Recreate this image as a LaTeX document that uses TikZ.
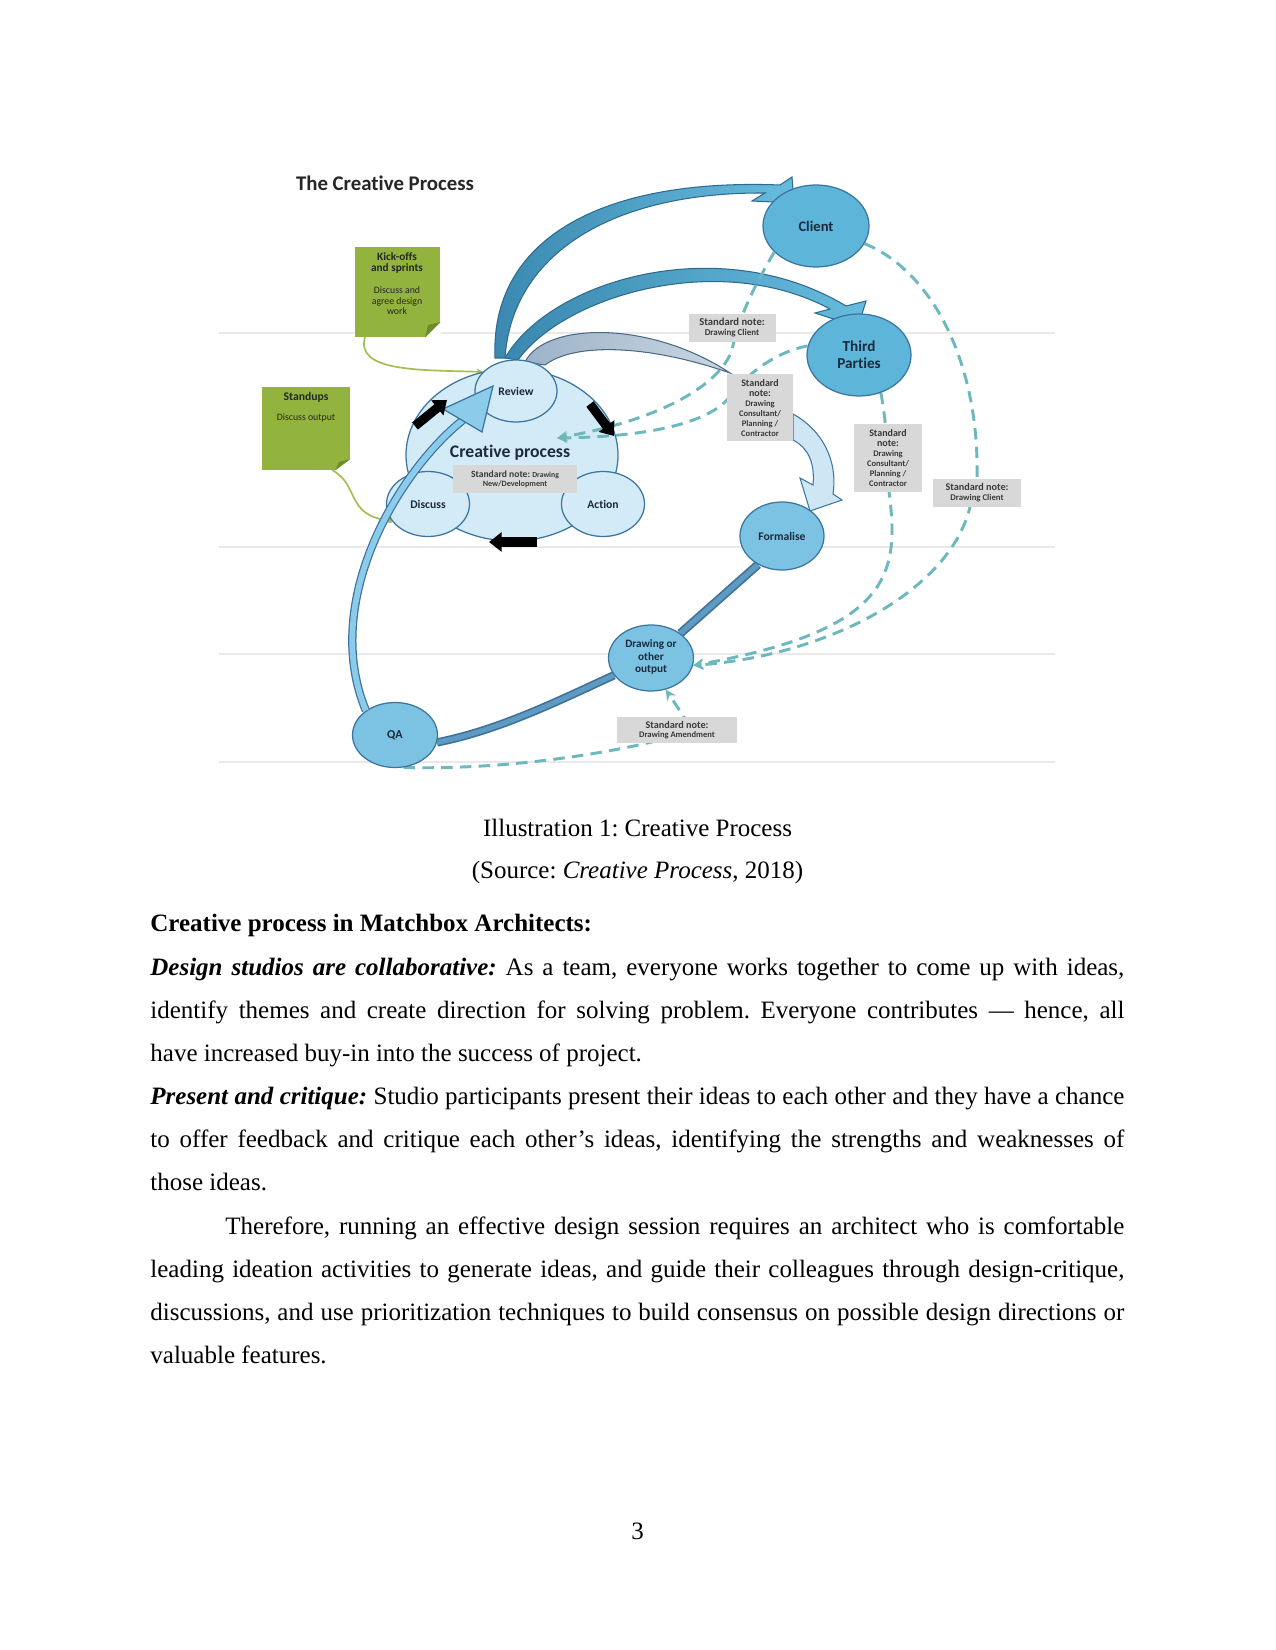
\documentclass[tikz,border=0pt]{standalone}
\usepackage{fontspec}
\setmainfont{Liberation Serif}
\newfontfamily\dgf[Ligatures=NoCommon]{Carlito}
\usetikzlibrary{shapes.geometric,arrows.meta}
\definecolor{ellfill}{HTML}{5DB5DA}
\definecolor{ellfill2}{HTML}{7CC2E2}
\definecolor{ellbd}{HTML}{3C74A2}
\definecolor{palefill}{HTML}{D3EBF6}
\definecolor{dgtext}{HTML}{1B2A3D}
\definecolor{kgreen}{HTML}{92B43F}
\definecolor{kgreendk}{HTML}{6E8C2C}
\definecolor{gline}{HTML}{A2BE52}
\definecolor{notegray}{HTML}{D8D8D8}
\definecolor{notetext}{HTML}{3A3A3A}
\definecolor{dashc}{HTML}{6DB8BC}
\definecolor{hl}{HTML}{E9E9E9}
\definecolor{arrA}{HTML}{3A88B0}
\definecolor{arrB}{HTML}{67BCDD}
\definecolor{arrbd}{HTML}{2E6A90}
\definecolor{grayA}{HTML}{9DB3C8}
\definecolor{grayB}{HTML}{CAD7E3}
\definecolor{grayBd}{HTML}{4A6888}
\definecolor{darkln}{HTML}{3E7399}
\definecolor{darkin}{HTML}{5E9AC2}
\definecolor{qaarr}{HTML}{8CCBEA}
\definecolor{paleArr}{HTML}{CFE7F4}
\newcommand\fsz[2]{\fontsize{#1}{#2}\selectfont}
\pgfdeclarelayer{bg}
\pgfdeclarelayer{conn}
\pgfsetlayers{bg,conn,main}
\frenchspacing
\begin{document}
\begin{tikzpicture}[x=0.48pt,y=-0.48pt,
 wh/.style 2 args={minimum width=#1*0.48pt,minimum height=#2*0.48pt},
 ell/.style={ellipse,draw=ellbd,line width=0.6pt,inner sep=0pt,align=center,text=dgtext},
 hline/.style={draw=hl,line width=0.6pt},
 note/.style={rectangle,fill=notegray,inner sep=0pt,align=center,text=notetext},
 dashln/.style={draw=dashc,line width=1.4pt,dash pattern=on 5.5pt off 3.5pt,-{Stealth[length=5pt,width=5pt]}},
 blk/.style={line width=4.4pt,-{Triangle[length=6pt,width=9pt]}},
 gconn/.style={draw=gline,line width=0.8pt},
 gtext/.style={align=center,text=black!85,inner sep=0pt},
 body/.style={anchor=base west,inner sep=0pt,font=\fsz{12}{14}},
]
\begin{pgfonlayer}{bg}
\useasboundingbox[fill=white] (0,0) rectangle (1275,1650);
\draw[hline] (219,333) -- (1055,333);
\draw[hline] (219,547) -- (1055,547);
\draw[hline] (219,654) -- (1055,654);
\draw[hline] (219,762) -- (1055,762);
\end{pgfonlayer}

% title
\node[font=\dgf\bfseries\fsz{10}{12},text=black!85] (title) at (385,183) {The Creative Process};

% green boxes
\node[rectangle,fill=kgreen,inner sep=0pt,wh={85}{90}] (kick) at (397.5,292) {};
\fill[white] (440.5,322) -- (440.5,337.5) -- (425,337.5) -- cycle;
\fill[kgreendk] (440.5,322) -- (425,337.5) -- (428,325) -- cycle;
\node[gtext,font=\dgf\bfseries\fsz{5.4}{5.6}] (kickt) at (397,263) {Kick-offs\\and sprints};
\node[gtext,font=\dgf\fsz{4.7}{5}] (kickd) at (397,301) {Discuss and\\agree design\\work};

\node[rectangle,fill=kgreen,inner sep=0pt,wh={88}{83}] (stand) at (306,428.5) {};
\fill[white] (350.5,459) -- (350.5,470.5) -- (335,470.5) -- cycle;
\fill[kgreendk] (350.5,459) -- (335,470.5) -- (339,462) -- cycle;
\node[gtext,font=\dgf\bfseries\fsz{5.6}{6}] (standt) at (306,397) {Standups};
\node[gtext,font=\dgf\fsz{4.7}{5}] (standd) at (306,418) {Discuss output};

\coordinate (kickout) at (365,337);
\coordinate (standout) at (332,470);

% outer ellipses (top)
\node[ell,fill=ellfill,wh={106}{82},font=\dgf\bfseries\fsz{7}{8}] (client) at (816,226) {Client};
\node[ell,fill=ellfill,wh={104}{82},font=\dgf\bfseries\fsz{7.3}{8}] (tp) at (859,355) {Third\\Parties};

% creative process cluster
\node[ell,fill=palefill,wh={212}{172}] (crea) at (512,455) {};
\node[ell,fill=palefill,wh={83}{65},font=\dgf\bfseries\fsz{5.6}{6}] (disc) at (428,504) {Discuss};
\node[ell,fill=palefill,wh={83}{65},font=\dgf\bfseries\fsz{5.6}{6}] (act) at (603,504) {Action};
\node[ell,fill=palefill,wh={82}{62},font=\dgf\bfseries\fsz{5.6}{6}] (rev) at (516,391) {Review};
\node[font=\dgf\bfseries\fsz{8.5}{10},text=dgtext,inner sep=0pt] (cplabel) at (510,453) {Creative process};

% dashed connectors into the creative process
\coordinate (ctip) at (557,438);
\draw[dashln] (client.212) .. controls (752,290) and (738,320) .. (732,350) .. controls (720,385) and (660,420) .. (ctip);
\draw[dashln] (tp.170) .. controls (775,352) and (745,375) .. (727,400) .. controls (700,428) and (630,437) .. (ctip);

% lower ellipses
\node[ell,fill=ellfill2,wh={84}{68},font=\dgf\bfseries\fsz{5.6}{6}] (form) at (782,536) {Formalise};
\node[ell,fill=ellfill2,wh={85}{66},font=\dgf\bfseries\fsz{5.4}{6}] (drw) at (651,658) {\\[-3pt]Drawing or\\other\\output};
\node[ell,fill=ellfill2,wh={85}{65},font=\dgf\bfseries\fsz{5.8}{6}] (qa) at (395,735) {QA};

% notes
\node[note,wh={124}{28},font=\dgf\bfseries\fsz{4.6}{4.4}] (nnew) at (515,479) {Standard note: {\fsz{3.7}{4.4}Drawing}\\{\fsz{3.9}{4.4}New/Development}};
\node[note,wh={87}{28},font=\dgf\bfseries\fsz{5.1}{4.8}] (nc1) at (732,328) {Standard note:\\{\fsz{4.3}{4.8}Drawing Client}};
\node[note,wh={66}{67},font=\dgf\bfseries\fsz{4.8}{4.8}] (ncons) at (760,408) {Standard\\note:\\{\fsz{4.1}{4.8}Drawing}\\{\fsz{4.1}{4.8}Consultant/}\\{\fsz{4.1}{4.8}Planning /}\\{\fsz{4.1}{4.8}Contractor}};
\node[note,wh={68}{68},font=\dgf\bfseries\fsz{4.8}{4.8}] (ntp) at (888,458) {Standard\\note:\\{\fsz{4.1}{4.8}Drawing}\\{\fsz{4.1}{4.8}Consultant/}\\{\fsz{4.1}{4.8}Planning /}\\{\fsz{4.1}{4.8}Contractor}};
\node[note,wh={88}{28},font=\dgf\bfseries\fsz{4.9}{4.8}] (nc2) at (977,493) {Standard note:\\{\fsz{4.2}{4.8}Drawing Client}};
\node[note,wh={120}{26},font=\dgf\bfseries\fsz{4.9}{4.6}] (nam) at (677,730) {Standard note:\\{\fsz{4.1}{4.6}Drawing Amendment}};

% connectors behind the nodes
\begin{pgfonlayer}{conn}
\draw[arrbd,line width=0.5pt,left color=arrA,right color=arrB]
 (495,358) .. controls (490,240) and (600,178) .. (780,185) -- (792,177) -- (794,203) -- (752,201) -- (765,193)
 .. controls (610,192) and (512,255) .. (505,358) -- cycle;
\draw[arrbd,line width=0.5pt,left color=arrA,right color=arrB]
 (505,358) .. controls (550,280) and (720,230) .. (846,306) -- (866,301) -- (858,327) -- (815,313) -- (830,309)
 .. controls (720,250) and (565,295) .. (518,360) -- cycle;
\draw[grayBd,line width=0.5pt,left color=grayA,right color=grayB]
 (525,362) .. controls (545,322) and (650,320) .. (730,373) .. controls (650,345) and (575,342) .. (545,365) -- cycle;
\draw[gconn,-{Stealth[length=3pt,width=3pt]}] (kickout) .. controls (355,372) and (420,370) .. (rev.150);
\draw[gconn,-{Square[length=2pt,width=2pt]}] (standout) .. controls (360,485) and (345,515) .. (disc.205);
\draw[draw=darkln,double=darkin,line width=0.8pt,double distance=2.6pt] (form.230) -- (drw.40);
\draw[draw=darkln,double=darkin,line width=0.8pt,double distance=2.4pt] (drw.205) .. controls (560,700) and (500,730) .. (qa.350);
\draw[dashln] (client.340) .. controls (930,270) and (980,360) .. (977,480) -- (970,507) .. controls (950,590) and (830,655) .. (drw.350);
\draw[dashln] (tp.300) .. controls (886,420) and (888,450) .. (889,492) .. controls (900,575) and (890,630) .. (drw.350);
\draw[dashln] (qa.285) .. controls (500,770) and (600,755) .. (660,740) -- (684,717) -- (drw.295);
\draw[ellbd,line width=0.5pt,fill=paleArr]
 (793,414) .. controls (822,430) and (838,460) .. (833,494) -- (842,500) -- (810,511) -- (800,478) -- (813,485)
 .. controls (815,462) and (808,448) .. (793,440) -- cycle;
\end{pgfonlayer}

% QA -> Review arrow
\draw[draw=ellbd,double=qaarr,line width=0.6pt,double distance=2.8pt] (qa.140) .. controls (320,600) and (400,470) .. (463,420);
\draw[ellbd,line width=0.6pt,fill=qaarr] (443,409) -- (493,386) -- (482,432) -- cycle;

% black cycle arrows
\draw[blk] (415,426) -- (447,400);
\draw[blk] (590,404) -- (614,436);
\draw[blk] (537,542) -- (489,542);

% text below figure
\node[body,anchor=base] (cap) at (637.5,836) {Illustration 1: Creative Process};
\node[body,anchor=base] (src) at (637.5,878) {(Source: \textit{Creative Process}, 2018)};
\node[body] (head) at (150,931) {\textbf{Creative process in Matchbox Architects:}};
\node[body] (l1) at (150,975) {\makebox[467.5pt][s]{\textbf{\textit{Design studios are collaborative:}} As a team, everyone works together to come up with ideas,}};
\node[body] (l2) at (150,1018) {\makebox[467.5pt][s]{identify themes and create direction for solving problem. Everyone contributes — hence, all}};
\node[body] (l3) at (150,1061) {have increased buy-in into the success of project.};
\node[body] (l4) at (150,1104) {\makebox[467.5pt][s]{\textbf{\textit{Present and critique:}} Studio participants present their ideas to each other and they have a chance}};
\node[body] (l5) at (150,1147) {\makebox[467.5pt][s]{to offer feedback and critique each other’s ideas, identifying the strengths and weaknesses of}};
\node[body] (l6) at (150,1190) {those ideas.};
\node[body] (l7) at (225,1234) {\makebox[431.5pt][s]{Therefore, running an effective design session requires an architect who is comfortable}};
\node[body] (l8) at (150,1277) {\makebox[467.5pt][s]{leading ideation activities to generate ideas, and guide their colleagues through design-critique,}};
\node[body] (l9) at (150,1320) {\makebox[467.5pt][s]{discussions, and use prioritization techniques to build consensus on possible design directions or}};
\node[body] (l10) at (150,1363) {valuable features.};
\node[body,anchor=base] (pnum) at (637.5,1539) {3};
\end{tikzpicture}
\end{document}
